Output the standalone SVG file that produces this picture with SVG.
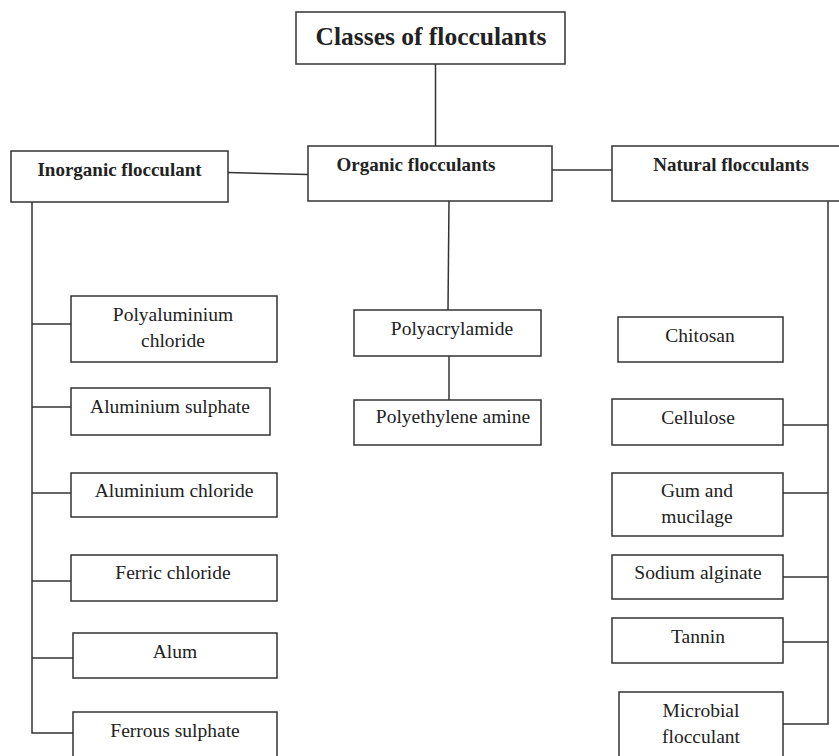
<svg xmlns="http://www.w3.org/2000/svg" width="839" height="756" viewBox="0 0 839 756">
<style>
  .box { fill: #fff; stroke: #333; stroke-width: 1.5; }
  .conn line, .conn polyline { stroke: #333; stroke-width: 1.5; fill: none; }
  text { font-family: "Liberation Serif", "Times New Roman", serif; fill: #222; text-anchor: middle; }
  .t { font-size: 19.5px; }
  .h { font-size: 19px; font-weight: bold; }
  .title { font-size: 25.5px; font-weight: bold; }
</style>
<rect width="839" height="756" fill="#fff"/>
<g class="conn" id="connectors">
  <line x1="435.5" y1="64" x2="435.5" y2="146"/>
  <line x1="228" y1="172.5" x2="308" y2="174.5"/>
  <line x1="552" y1="170" x2="612" y2="170"/>
  <line x1="449" y1="201" x2="448" y2="310"/>
  <line x1="449" y1="356" x2="449" y2="400"/>
  <polyline points="32,202 32,733 73,733"/>
  <line x1="32" y1="324" x2="71" y2="324"/>
  <line x1="32" y1="407" x2="71" y2="407"/>
  <line x1="32" y1="493" x2="71" y2="493"/>
  <line x1="32" y1="581" x2="71" y2="581"/>
  <line x1="32" y1="658" x2="73" y2="658"/>
  <polyline points="828,201 828,724 783,724"/>
  <line x1="783" y1="425" x2="828" y2="425"/>
  <line x1="783" y1="493" x2="828" y2="493"/>
  <line x1="783" y1="577" x2="828" y2="577"/>
  <line x1="783" y1="642" x2="828" y2="642"/>
</g>
<g id="title"><rect class="box" x="296" y="12" width="269" height="52"/><text class="title" x="431" y="45">Classes of flocculants</text></g>
<g id="inorganic"><rect class="box" x="11" y="151" width="217" height="51"/><text class="h" x="119.5" y="176">Inorganic flocculant</text></g>
<g id="organic"><rect class="box" x="308" y="146" width="244" height="55"/><text class="h" x="416" y="171">Organic flocculants</text></g>
<g id="natural"><rect class="box" x="612" y="146" width="230" height="55"/><text class="h" x="731" y="171">Natural flocculants</text></g>
<g id="pac"><rect class="box" x="71" y="296" width="206" height="66"/><text class="t" x="173" y="321">Polyaluminium</text><text class="t" x="173" y="347">chloride</text></g>
<g id="alsulphate"><rect class="box" x="71" y="388" width="199" height="47"/><text class="t" x="170" y="413">Aluminium sulphate</text></g>
<g id="alchloride"><rect class="box" x="71" y="473" width="206" height="44"/><text class="t" x="174" y="497">Aluminium chloride</text></g>
<g id="ferric"><rect class="box" x="71" y="555" width="206" height="46"/><text class="t" x="173" y="579">Ferric chloride</text></g>
<g id="alum"><rect class="box" x="73" y="633" width="204" height="45"/><text class="t" x="175" y="658">Alum</text></g>
<g id="ferrous"><rect class="box" x="73" y="712" width="204" height="50"/><text class="t" x="175" y="737">Ferrous sulphate</text></g>
<g id="polyacrylamide"><rect class="box" x="354" y="310" width="187" height="46"/><text class="t" x="452" y="335">Polyacrylamide</text></g>
<g id="polyethylene"><rect class="box" x="354" y="400" width="187" height="45"/><text class="t" x="453" y="423">Polyethylene amine</text></g>
<g id="chitosan"><rect class="box" x="618" y="317" width="165" height="45"/><text class="t" x="700" y="342">Chitosan</text></g>
<g id="cellulose"><rect class="box" x="612" y="399" width="171" height="46"/><text class="t" x="698" y="424">Cellulose</text></g>
<g id="gum"><rect class="box" x="612" y="473" width="171" height="63"/><text class="t" x="697" y="497">Gum and</text><text class="t" x="697" y="523">mucilage</text></g>
<g id="alginate"><rect class="box" x="612" y="555" width="171" height="44"/><text class="t" x="698" y="579">Sodium alginate</text></g>
<g id="tannin"><rect class="box" x="612" y="618" width="171" height="45"/><text class="t" x="698" y="643">Tannin</text></g>
<g id="microbial"><rect class="box" x="619" y="692" width="164" height="70"/><text class="t" x="701" y="717">Microbial</text><text class="t" x="701" y="743">flocculant</text></g>
</svg>
